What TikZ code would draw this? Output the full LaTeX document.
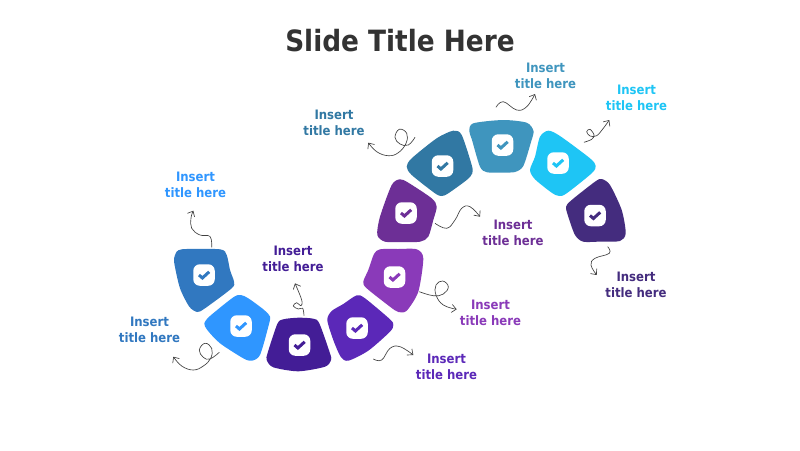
\documentclass[tikz,border=0pt]{standalone}
\usepackage{fontspec}
\setmainfont{DejaVu Sans Condensed}
\newfontfamily\lblfont{DejaVu Sans Condensed}
\usetikzlibrary{arrows.meta}
\definecolor{cA}{HTML}{3178C0}
\definecolor{cB}{HTML}{2F96FF}
\definecolor{cC}{HTML}{431D96}
\definecolor{cD}{HTML}{5B28B8}
\definecolor{cE}{HTML}{8A3AB9}
\definecolor{cF}{HTML}{6D2F96}
\definecolor{cG}{HTML}{3178A3}
\definecolor{cH}{HTML}{3F95BE}
\definecolor{cI}{HTML}{1EC5F5}
\definecolor{cJ}{HTML}{442C7E}
\tikzset{
  x=1pt,y=-1pt,
  blob/.style={fill=#1,draw=none},
  badge/.style={fill=white,draw=none,rounded corners=6.5pt,minimum size=21.5pt,inner sep=0pt},
  tick/.style={draw=#1,line width=3pt,line join=miter},
  squig/.style={draw=black!75,line width=0.65pt,-{Straight Barb[length=4.5pt,width=8pt]}},
  lbl/.style={font=\lblfont\bfseries\fontsize{13}{16}\selectfont,align=center,text=#1,inner sep=0pt},
  ttl/.style={font=\bfseries\fontsize{29.3}{36}\selectfont,text=black!80,inner sep=0pt},
}
\newcommand{\mkblob}[4]{%
  \fill[blob=#2] plot[smooth cycle,tension=0.45] coordinates {#3};
  \node[badge] (#1) at (#4) {};
  \draw[tick=#2] ([xshift=-5pt,yshift=0pt]#1.center) -- ([xshift=-1.6pt,yshift=-3pt]#1.center) -- ([xshift=5.2pt,yshift=3.2pt]#1.center);
}
\begin{document}
\begin{tikzpicture}
\useasboundingbox (0,0) rectangle (800,450);
\fill[white] (0,0) rectangle (800,450);
\node[ttl] (title) at (400,41) {Slide Title Here};

\mkblob{a}{cA}{(181.7,249.3)(220,249.3)(226.7,255)(230,270)(234,281.7)(231.7,288.3)(205,308.3)(197.3,312)(189.3,306.7)(180,288.3)(174.3,263.3)(175,255)}{204,275}
\mkblob{b}{cB}{(204.3,323.3)(210,316)(233.3,297.3)(240.7,295)(248.3,298.3)(263.3,309.3)(270,316.7)(268.3,326.7)(260,355)(251.7,360.7)(243.3,358.3)(220,343.3)(207.3,330)}{241,326}
\mkblob{c}{cC}{(283.3,319.3)(298.3,317.7)(313.3,318.7)(319.3,323.3)(330,353.3)(331,360)(325,366.7)(298.3,371.3)(273.3,367.3)(266.7,360)(267.7,352.7)(277.3,324)}{299.5,345}
\mkblob{d}{cD}{(327.3,320)(331.7,311)(343.3,304)(356.7,295.3)(365,298.3)(390,319.3)(393.3,325)(390,331.7)(368.3,350.7)(348.3,360.7)(340.7,356.7)(333.3,340)}{357,328}
\mkblob{e}{cE}{(380,249.3)(398,249)(416.7,249.3)(423.3,258.3)(418.3,291.7)(406.7,310.7)(398.3,312)(390,306.7)(366.7,288.3)(363.3,281.7)(368.3,270)(374,254)}{394.5,277}
\mkblob{f}{cF}{(400,179.3)(408.3,182.7)(431.7,198.3)(436.7,206.7)(433.3,220)(428.3,236.7)(420,241.7)(402,242)(385,241.7)(377.3,235)(380,216.7)(391.7,185)}{406,213}
\mkblob{g}{cG}{(406.7,166.7)(411.7,158.3)(436.7,138.3)(453.3,130.7)(461.7,135)(471.7,165)(472.3,173.3)(466.7,180)(448.3,193.3)(441.7,196)(435,193.3)(411.7,175)}{442.5,166}
\mkblob{h}{cH}{(469.3,131)(473.3,123.3)(503,120)(526.7,122.7)(533.5,131)(531,142)(523.3,166)(515,172)(503,172.5)(487,172.3)(480,166.7)(472,140)}{502.5,145}
\mkblob{i}{cI}{(530,170)(535,156.7)(540,136.7)(548.3,130.7)(560,136)(590,158.3)(595.7,166)(591.7,173.3)(566.7,193.3)(559.3,196)(551.7,192.7)(535,179.3)}{558,163}
\mkblob{j}{cJ}{(566,206.7)(571.7,200)(595,181.7)(601.7,179)(610,185)(621.7,210)(625.7,233.3)(620,241)(602,241.5)(583.3,241.7)(575,235)(568.3,216.7)}{595,215.5}

\node[lbl=cB] (la) at (195.5,184.9) {Insert\\title here};
\node[lbl=cA] (lb) at (149.5,329.4) {Insert\\title here};
\node[lbl=cC] (lc) at (293,258.4) {Insert\\title here};
\node[lbl=cD] (ld) at (446.5,366.9) {Insert\\title here};
\node[lbl=cE] (le) at (490.5,312.4) {Insert\\title here};
\node[lbl=cF] (lf) at (513,232.4) {Insert\\title here};
\node[lbl=cG] (lg) at (334,122.4) {Insert\\title here};
\node[lbl=cH] (lh) at (545.5,75.4) {Insert\\title here};
\node[lbl=cI] (li) at (636.5,97.4) {Insert\\title here};
\node[lbl=cJ] (lj) at (636,284.4) {Insert\\title here};

\draw[squig] plot[smooth,tension=.7] coordinates {(211.7,247.3)(210,236.5)(200,235)(191.7,228.3)(191,218)(193.3,210.7)};
\draw[squig] plot[smooth,tension=.7] coordinates {(219.3,352.3)(210,359)(203.3,357.3)(199.3,350)(205,343.3)(211.7,348.3)(210.7,358.3)(203.3,366)(193.3,370)(181.7,366)(173.3,356.7)};
\draw[squig] plot[smooth,tension=.6] coordinates {(304,315.7)(302.7,308.3)(298.3,309)(293.3,306)(296.7,302.7)(301,305.7)(301.7,300)(295,283.3)};
\draw[squig] plot[smooth,tension=.7] coordinates {(373.3,359)(381.7,360)(390,348.3)(400,346.7)(413.3,355)};
\draw[squig] plot[smooth,tension=.7] coordinates {(419.3,291.7)(433.3,295.7)(443.3,294)(448.3,286.7)(442.7,281)(436,285)(436,295)(443.3,305)(456.7,309.3)};
\draw[squig] plot[smooth,tension=.7] coordinates {(435,223.3)(446.7,228.3)(455,220)(461.7,208.3)(470,206.7)(480,216.7)};
\draw[squig] plot[smooth,tension=.7] coordinates {(415,137.3)(408.3,145)(400,144)(395,137.3)(399.3,129.3)(406.7,133.3)(406,143.3)(398.3,152.7)(388.3,155.7)(376.7,151.7)(368.3,142.7)};
\draw[squig] plot[smooth,tension=.7] coordinates {(496,107.3)(503.3,101.7)(516.7,110)(526.7,106.7)(535,94)};
\draw[squig] plot[smooth,tension=.6] coordinates {(584,142.3)(591.7,139.3)(594,135)(590,129.3)(586.7,131.7)(590,136)(596.7,135.7)(603.3,128.3)(609.3,120)};
\draw[squig] plot[smooth,tension=.7] coordinates {(607.7,246.7)(609.3,253.3)(595,258.3)(591,265)(596.7,275)};
\end{tikzpicture}
\end{document}
